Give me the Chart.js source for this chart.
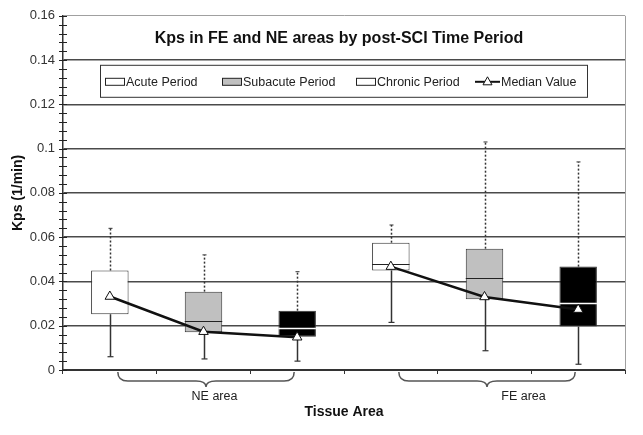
<!DOCTYPE html>
<html>
<head>
<meta charset="utf-8">
<script src="https://cdn.jsdelivr.net/npm/chart.js@4.4.1/dist/chart.umd.min.js"></script>
<style>
html,body{margin:0;padding:0;background:#fff;}
#wrap{width:643px;height:435px;}
</style>
</head>
<body>
<div id="wrap"><canvas id="c" width="643" height="435"></canvas></div>
<script>
const categories = ['NE Acute','NE Subacute','NE Chronic','FE Acute','FE Subacute','FE Chronic'];
const periods = ['Acute Period','Subacute Period','Chronic Period'];
const groupLabels = ['NE area','FE area'];
const whiskerLow  = [0.0060, 0.0050, 0.0040, 0.0215, 0.0087, 0.0026];
const boxLow      = [0.0252, 0.0171, 0.0150, 0.0450, 0.0320, 0.0196];
const boxMid      = [null,   0.0223, 0.0190, 0.0480, 0.0417, 0.0303];
const boxHigh     = [0.0450, 0.0354, 0.0268, 0.0575, 0.0548, 0.0467];
const whiskerHigh = [0.0640, 0.0520, 0.0444, 0.0655, 0.1030, 0.0940];
const medianValue = [0.0332, 0.0173, 0.0148, 0.0467, 0.0330, 0.0273];
const titleText = 'Kps in FE and NE areas by post-SCI Time Period';
const yTitle = 'Kps (1/min)';
const xTitle = 'Tissue Area';
const medianLabel = 'Median Value';

const FONT = "'Liberation Sans', Arial, sans-serif";
const periodFill = ['#ffffff', '#c0c0c0', '#000000'];
const isMajor = v => Math.abs(v / 0.02 - Math.round(v / 0.02)) < 1e-6;

const deco = {
  id: 'deco',
  beforeDatasetDraw(chart, args) {
    if (args.index !== 0) return;
    const ctx = chart.ctx, y = chart.scales.y;
    const bars = chart.getDatasetMeta(1).data;
    ctx.save();
    bars.forEach((b, i) => {
      const x = Math.round(b.x) + 0.5;
      // upper dotted whisker
      ctx.strokeStyle = '#333'; ctx.lineWidth = 1.5;
      ctx.setLineDash([2, 2]);
      ctx.beginPath();
      ctx.moveTo(x, y.getPixelForValue(boxHigh[i]));
      ctx.lineTo(x, y.getPixelForValue(whiskerHigh[i]));
      ctx.stroke();
      ctx.setLineDash([]);
      ctx.lineWidth = 1;
      ctx.beginPath();
      const yt = y.getPixelForValue(whiskerHigh[i]);
      ctx.moveTo(x - 2, yt); ctx.lineTo(x + 2, yt); ctx.stroke();
      // lower solid whisker
      ctx.lineWidth = 1.5;
      ctx.beginPath();
      ctx.moveTo(x, y.getPixelForValue(boxLow[i]));
      const yb = y.getPixelForValue(whiskerLow[i]);
      ctx.lineTo(x, yb);
      ctx.stroke();
      ctx.lineWidth = 1.2;
      ctx.beginPath();
      ctx.moveTo(x - 3, yb); ctx.lineTo(x + 3, yb); ctx.stroke();
      // inner line
      if (boxMid[i] !== null) {
        const ym = Math.round(y.getPixelForValue(boxMid[i])) + 0.5;
        ctx.strokeStyle = (i % 3 === 2) ? '#ffffff' : '#222';
        ctx.lineWidth = (i % 3 === 2) ? 1.5 : 1;
        ctx.beginPath();
        ctx.moveTo(b.x - b.width / 2, ym); ctx.lineTo(b.x + b.width / 2, ym); ctx.stroke();
      }
    });
    ctx.restore();
  },
  afterDraw(chart) {
    const ctx = chart.ctx, a = chart.chartArea, y = chart.scales.y, xs = chart.scales.x;
    ctx.save();
    // minor ticks on y axis
    ctx.strokeStyle = '#222'; ctx.lineWidth = 1;
    y.ticks.forEach(t => {
      const py = Math.round(y.getPixelForValue(t.value)) + 0.5;
      ctx.beginPath(); ctx.moveTo(a.left - 4, py); ctx.lineTo(a.left + 4, py); ctx.stroke();
    });
    // right border
    ctx.strokeStyle = '#a0a0a0'; ctx.lineWidth = 1;
    ctx.beginPath(); ctx.moveTo(a.right + 0.5, a.top); ctx.lineTo(a.right + 0.5, a.bottom); ctx.stroke();
    // title
    ctx.fillStyle = '#111';
    ctx.font = 'bold 16px ' + FONT;
    ctx.textAlign = 'center'; ctx.textBaseline = 'middle';
    ctx.fillText(titleText, a.left + 276, a.top + 23);
    // legend
    const lx = a.left + 37, ly = a.top + 49, lw = 487, lh = 32;
    ctx.fillStyle = '#fff'; ctx.fillRect(lx, ly, lw, lh);
    ctx.strokeStyle = '#333'; ctx.lineWidth = 1;
    ctx.strokeRect(lx + 0.5, ly + 0.5, lw, lh);
    ctx.font = '12.5px ' + FONT; ctx.textAlign = 'left';
    const cy = ly + 17;
    const itemX = [a.left + 42, a.left + 159, a.left + 293];
    const legFill = ['#ffffff', '#c0c0c0', '#ffffff'];
    periods.forEach((p, k) => {
      ctx.fillStyle = legFill[k];
      ctx.fillRect(itemX[k] + 0.5, cy - 3.5, 19, 7);
      ctx.strokeStyle = '#222';
      ctx.strokeRect(itemX[k] + 0.5, cy - 3.5, 19, 7);
      ctx.fillStyle = '#222';
      ctx.fillText(p, itemX[k] + 21, cy + 1);
    });
    const mx = a.left + 412;
    ctx.strokeStyle = '#111'; ctx.lineWidth = 2;
    ctx.beginPath(); ctx.moveTo(mx, cy); ctx.lineTo(mx + 25, cy); ctx.stroke();
    ctx.fillStyle = '#fff'; ctx.lineWidth = 1;
    ctx.beginPath();
    ctx.moveTo(mx + 12.5, cy - 5); ctx.lineTo(mx + 17, cy + 3); ctx.lineTo(mx + 8, cy + 3); ctx.closePath();
    ctx.fill(); ctx.stroke();
    ctx.fillStyle = '#222';
    ctx.fillText(medianLabel, mx + 26, cy + 1);
    // braces
    const labelOff = [11, 39];
    groupLabels.forEach((g, k) => {
      const x0 = xs.getPixelForValue(k * 3), x2 = xs.getPixelForValue(k * 3 + 2);
      const L = x0 + 8, R = x2 - 3, M = (L + R) / 2;
      const top = a.bottom + 2, mid = a.bottom + 11, tip = a.bottom + 17;
      ctx.strokeStyle = '#555'; ctx.lineWidth = 1.5;
      ctx.beginPath();
      ctx.moveTo(L, top);
      ctx.quadraticCurveTo(L, mid, L + 10, mid);
      ctx.lineTo(M - 10, mid);
      ctx.quadraticCurveTo(M, mid, M, tip);
      ctx.quadraticCurveTo(M, mid, M + 10, mid);
      ctx.lineTo(R - 10, mid);
      ctx.quadraticCurveTo(R, mid, R, top);
      ctx.stroke();
      ctx.fillStyle = '#222'; ctx.font = '12.5px ' + FONT;
      ctx.textAlign = 'center'; ctx.textBaseline = 'middle';
      ctx.fillText(g, xs.getPixelForValue(k * 3 + 1) + labelOff[k], a.bottom + 27);
    });
    // axis titles
    ctx.fillStyle = '#111'; ctx.font = 'bold 14px ' + FONT;
    ctx.textAlign = 'center'; ctx.textBaseline = 'middle';
    ctx.fillText(xTitle, (a.left + a.right) / 2, a.bottom + 42);
    ctx.translate(18, (a.top + a.bottom) / 2);
    ctx.rotate(-Math.PI / 2);
    ctx.fillText(yTitle, 0, 0);
    ctx.restore();
  }
};

new Chart(document.getElementById('c'), {
  data: {
    labels: categories,
    datasets: [
      {
        type: 'line',
        label: medianLabel,
        data: medianValue,
        borderColor: '#111',
        borderWidth: 2.5,
        tension: 0,
        pointStyle: 'triangle',
        pointRadius: 5.5,
        pointBackgroundColor: '#ffffff',
        pointBorderColor: '#111',
        pointBorderWidth: 1,
        segment: {
          borderColor: c => (c.p0DataIndex === 2 ? 'rgba(0,0,0,0)' : '#111')
        }
      },
      {
        type: 'bar',
        label: 'box',
        data: categories.map((c, i) => [boxLow[i], boxHigh[i]]),
        backgroundColor: categories.map((c, i) => periodFill[i % 3]),
        borderColor: '#333',
        borderWidth: 1,
        borderSkipped: false,
        barPercentage: 0.4,
        categoryPercentage: 1
      }
    ]
  },
  options: {
    responsive: false,
    animation: false,
    events: [],
    layout: { padding: { left: 0, right: 18, top: 15, bottom: 0 } },
    plugins: { legend: { display: false }, tooltip: { enabled: false }, title: { display: false } },
    scales: {
      x: {
        type: 'category',
        offset: true,
        afterFit: s => { s.height = 65; },
        grid: { offset: true, drawOnChartArea: false, drawTicks: true, tickLength: 4, color: '#333', lineWidth: 1 },
        border: { color: '#333', width: 2 },
        ticks: { display: false }
      },
      y: {
        min: 0, max: 0.16,
        afterFit: s => { s.width = 63; },
        ticks: {
          stepSize: 0.004,
          autoSkip: false,
          padding: 8,
          color: '#333',
          font: { family: FONT, size: 13 },
          callback: v => (isMajor(v) ? String(+v.toFixed(2)) : '')
        },
        grid: {
          drawTicks: false,
          color: c => {
            const v = c.tick.value;
            if (!isMajor(v) || v < 1e-9) return 'rgba(0,0,0,0)';
            if (v > 0.159) return '#a0a0a0';
            return '#4a4a4a';
          },
          lineWidth: c => (c.tick.value > 0.159 ? 1 : 1.5)
        },
        border: { color: '#333', width: 1.5 }
      }
    }
  },
  plugins: [deco]
});
</script>
</body>
</html>
